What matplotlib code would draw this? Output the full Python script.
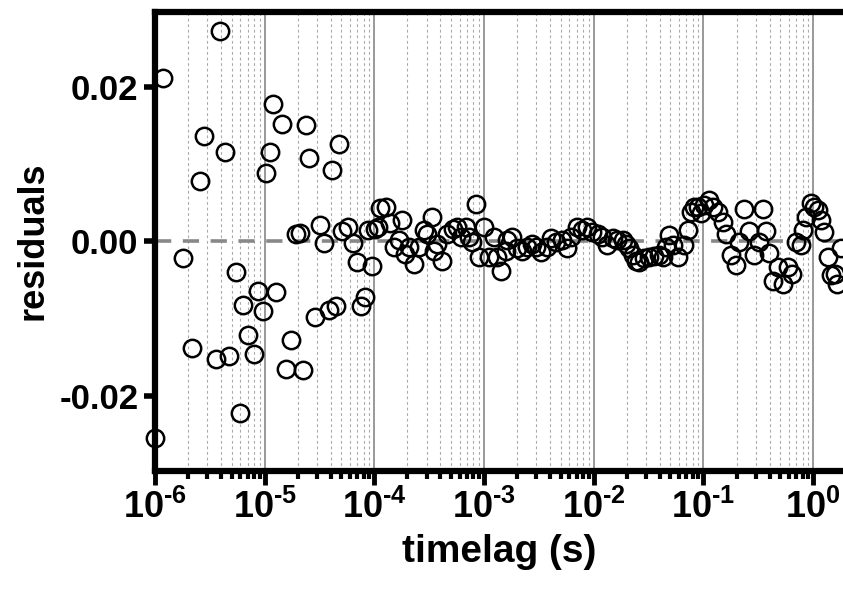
import numpy as np
import matplotlib
matplotlib.use('Agg')
import matplotlib.pyplot as plt
from matplotlib.ticker import LogLocator, FixedLocator, FuncFormatter

plt.rcParams['font.family'] = ['Liberation Sans', 'DejaVu Sans']
plt.rcParams['font.weight'] = 'bold'
plt.rcParams['mathtext.fontset'] = 'custom'
plt.rcParams['mathtext.rm'] = 'Liberation Sans:bold'
plt.rcParams['mathtext.bf'] = 'Liberation Sans:bold'
plt.rcParams['mathtext.it'] = 'Liberation Sans:bold'

# log10 of the time lag (s)
log_t = [-6.000, -5.924, -5.747, -5.662, -5.589, -5.555, -5.446, -5.404, -5.358, -5.321,
         -5.258, -5.224, -5.194, -5.151, -5.099, -5.062, -5.020, -4.986, -4.953, -4.925,
         -4.895, -4.843, -4.804, -4.758, -4.719, -4.682, -4.651, -4.621, -4.594, -4.545,
         -4.500, -4.463, -4.417, -4.384, -4.347, -4.320, -4.299, -4.240, -4.198, -4.158,
         -4.119, -4.082, -4.058, -4.018, -3.991, -3.945, -3.963, -3.890, -3.854, -3.824,
         -3.778, -3.747, -3.723, -3.687, -3.641, -3.595, -3.550, -3.519, -3.479, -3.458,
         -3.427, -3.388, -3.336, -3.281, -3.245, -3.215, -3.169, -3.139, -3.108, -3.078,
         -3.047, -3.002, -2.956, -2.911, -2.879, -2.843, -2.804, -2.788, -2.742, -2.697,
         -2.651, -2.605, -2.560, -2.530, -2.484, -2.423, -2.393, -2.347, -2.286, -2.240,
         -2.210, -2.149, -2.103, -2.058, -2.012, -1.966, -1.921, -1.875, -1.829, -1.784,
         -1.738, -1.708, -1.678, -1.647, -1.616, -1.586, -1.541, -1.495, -1.449, -1.404,
         -1.373, -1.342, -1.312, -1.281, -1.236, -1.175, -1.144, -1.114, -1.084, -1.053,
         -1.023, -0.993, -0.947, -0.916, -0.870, -0.825, -0.795, -0.749, -0.703, -0.673,
         -0.627, -0.582, -0.536, -0.490, -0.459, -0.429, -0.399, -0.368, -0.323, -0.277,
         -0.231, -0.192, -0.155, -0.110, -0.094, -0.070, -0.018, 0.012, 0.043, 0.073,
         0.103, 0.134, 0.164, 0.195, 0.216, 0.256]

residuals = [-0.0255, 0.0212, -0.0022, -0.0138, 0.0078, 0.0137, -0.0152, 0.0272, 0.0116, -0.0149,
             -0.0040, -0.0223, -0.0083, -0.0121, -0.0146, -0.0064, -0.0090, 0.0089, 0.0115, 0.0178,
             -0.0066, 0.0152, -0.0165, -0.0128, 0.0010, 0.0011, -0.0167, 0.0151, 0.0108, -0.0098,
             0.0021, -0.0002, -0.0089, 0.0092, -0.0084, 0.0126, 0.0013, 0.0019, -0.0002, -0.0027,
             -0.0084, -0.0072, 0.0015, -0.0032, 0.0016, 0.0043, 0.0019, 0.0045, 0.0023, -0.0007,
             0.0001, 0.0027, -0.0017, -0.0007, -0.0029, -0.0007, 0.0014, 0.0010, 0.0032, -0.0012,
             -0.0003, -0.0026, 0.0009, 0.0016, 0.0019, 0.0006, 0.0019, 0.0006, -0.0001, 0.0048,
             -0.0020, 0.0019, -0.0020, 0.0006, -0.0020, -0.0038, -0.0012, 0.0001, 0.0006, -0.0009,
             -0.0012, -0.0007, -0.0003, -0.0007, -0.0014, -0.0007, 0.0004, -0.0001, 0.0001, -0.0009,
             0.0006, 0.0019, 0.0014, 0.0019, 0.0012, 0.0010, 0.0006, -0.0005, 0.0004, 0.0001,
             0.0001, -0.0003, -0.0009, -0.0018, -0.0025, -0.0027, -0.0022, -0.0020, -0.0019, -0.0018,
             -0.0020, -0.0007, 0.0008, -0.0005, -0.0020, -0.0005, 0.0014, 0.0038, 0.0045, 0.0045,
             0.0036, 0.0047, 0.0053, 0.0045, 0.0038, 0.0025, 0.0009, -0.0018, -0.0031, -0.0001,
             0.0042, 0.0013, -0.0018, -0.0001, 0.0042, 0.0013, -0.0015, -0.0051, -0.0034, -0.0055,
             -0.0033, -0.0043, -0.0001, -0.0005, 0.0015, 0.0032, 0.0050, 0.0045, 0.0040, 0.0028,
             0.0012, -0.0021, -0.0044, -0.0042, -0.0055, -0.0009]

timelag = 10 ** np.array(log_t)

y_ticks = [-0.02, 0.00, 0.02]


def decade_label(v, pos):
    e = int(round(np.log10(v)))
    return r'$\mathdefault{10^{\text{%d}}}$' % e


W, H = 843, 589
fig = plt.figure(figsize=(W / 100, H / 100), dpi=100)
ax = fig.add_axes([155 / W, 1 - 470.5 / H, 1 - 155 / W, (470.5 - 12) / H])

ax.set_xscale('log')
ax.set_xlim(1e-6, 1.87)
ax.set_ylim(-0.0297, 0.0297)

# grid
ax.xaxis.set_major_locator(LogLocator(base=10, numticks=20))
ax.xaxis.set_minor_locator(LogLocator(base=10, subs=np.arange(2, 10), numticks=20))
ax.xaxis.set_major_formatter(FuncFormatter(decade_label))
ax.grid(True, which='major', axis='x', color='#999999', lw=1.4, zorder=0)
ax.grid(True, which='minor', axis='x', color='#aaaaaa', lw=0.8, ls=(0, (2.5, 2.5)), zorder=0)
ax.set_axisbelow(True)

ax.axhline(0, color='#888888', lw=2.6, ls=(0, (4.5, 3.2)), zorder=1)

ax.plot(timelag, residuals, 'o', ms=12.5, mfc='none', mec='black', mew=1.8, zorder=3,
        clip_on=False)

ax.yaxis.set_major_locator(FixedLocator(y_ticks))
ax.yaxis.set_major_formatter(FuncFormatter(lambda v, p: '%.2f' % v))

for side in ['left', 'top', 'bottom']:
    ax.spines[side].set_linewidth(4.5)
ax.spines['right'].set_visible(False)

ax.tick_params(axis='y', which='major', length=8, width=4, labelsize=25, pad=4)
ax.tick_params(axis='x', which='major', length=10, width=3.5, labelsize=26, pad=4)
ax.tick_params(axis='x', which='minor', length=6, width=3)

ax.set_xlabel('timelag (s)', fontsize=28, fontweight='bold', labelpad=6)
ax.set_ylabel('residuals', fontsize=26, fontweight='bold', labelpad=6)

fig.savefig('out.png', dpi=100)
